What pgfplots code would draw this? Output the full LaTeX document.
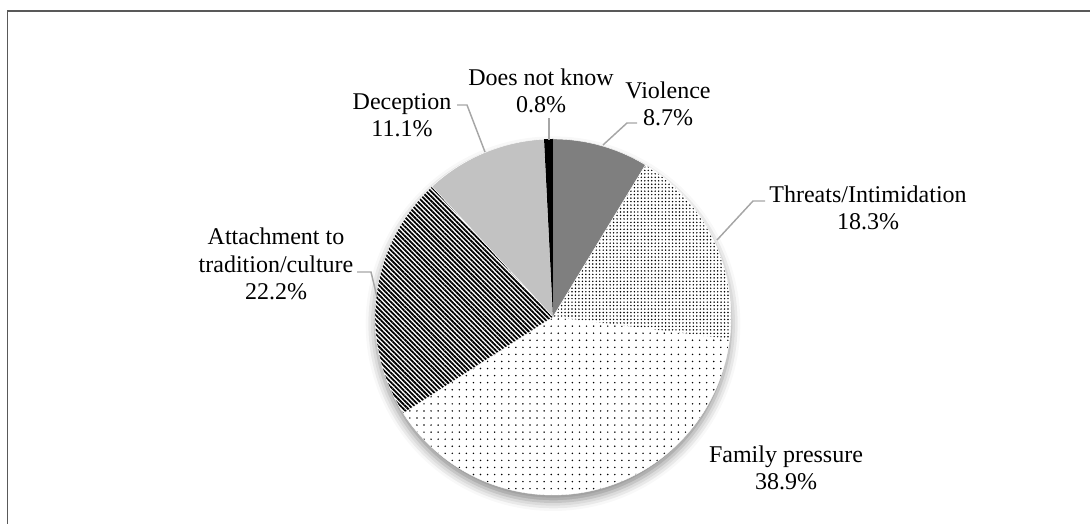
\documentclass[border=0pt]{standalone}
\usepackage{pgfplots}
\pgfplotsset{compat=1.18}
\usepackage{pgfplotstable}
\usepackage{fontspec}
\setmainfont{Liberation Serif}
\usetikzlibrary{patterns.meta,shadows.blur}

\definecolor{frame}{HTML}{595959}
\definecolor{leader}{HTML}{A6A6A6}
\definecolor{viol}{HTML}{7F7F7F}
\definecolor{decep}{HTML}{C2C2C2}

\pgfplotstableread{
cat pct
Violence 8.7
Threats 18.3
Family 38.9
Attachment 22.2
Deception 11.1
DNK 0.8
}\piedata

\pgfplotstablegetelem{0}{pct}\of\piedata \let\pA\pgfplotsretval
\pgfplotstablegetelem{1}{pct}\of\piedata \let\pB\pgfplotsretval
\pgfplotstablegetelem{2}{pct}\of\piedata \let\pC\pgfplotsretval
\pgfplotstablegetelem{3}{pct}\of\piedata \let\pD\pgfplotsretval
\pgfplotstablegetelem{4}{pct}\of\piedata \let\pE\pgfplotsretval
\pgfplotstablegetelem{5}{pct}\of\piedata \let\pF\pgfplotsretval
\pgfmathsetmacro\aA{90}
\pgfmathsetmacro\aB{\aA-3.6*\pA}
\pgfmathsetmacro\aC{\aB-3.6*\pB}
\pgfmathsetmacro\aD{\aC-3.6*\pC}
\pgfmathsetmacro\aE{\aD-3.6*\pD}
\pgfmathsetmacro\aF{\aE-3.6*\pE}
\pgfmathsetmacro\aG{\aF-3.6*\pF}

\def\cx{553}
\def\cy{207}
\def\R{178}

\begin{document}
\begin{tikzpicture}
\begin{axis}[
  width=817.5pt, height=393pt, scale only axis,
  xmin=0, xmax=1090, ymin=0, ymax=524,
  hide axis, clip=false,
]
% shadow base
\addplot[fill=white, draw=none, domain=0:360, samples=180, variable=\t,
  blur shadow={shadow xshift=0pt, shadow yshift=-5pt, shadow blur radius=7pt, shadow opacity=45}]
  ({\cx+\R*cos(\t)},{\cy+\R*sin(\t)}) -- cycle;
% slices
\addplot[fill=viol, draw=white, line width=0.3pt, domain=\aB:\aA, samples=60, variable=\t]
  ({\cx+\R*cos(\t)},{\cy+\R*sin(\t)}) -- (axis cs:\cx,\cy) -- cycle;
\addplot[draw=white, line width=0.3pt, pattern={Dots[distance=2.6pt, radius=0.62pt]}, domain=\aC:\aB, samples=80, variable=\t]
  ({\cx+\R*cos(\t)},{\cy+\R*sin(\t)}) -- (axis cs:\cx,\cy) -- cycle;
\addplot[draw=white, line width=0.3pt, pattern={Dots[distance=5.3pt, radius=0.62pt]}, domain=\aD:\aC, samples=120, variable=\t]
  ({\cx+\R*cos(\t)},{\cy+\R*sin(\t)}) -- (axis cs:\cx,\cy) -- cycle;
\addplot[draw=white, line width=0.3pt, pattern={Lines[angle=-45, distance=2.5pt, line width=1.35pt]}, domain=\aE:\aD, samples=80, variable=\t]
  ({\cx+\R*cos(\t)},{\cy+\R*sin(\t)}) -- (axis cs:\cx,\cy) -- cycle;
\addplot[fill=decep, draw=white, line width=0.3pt, domain=\aF:\aE, samples=60, variable=\t]
  ({\cx+\R*cos(\t)},{\cy+\R*sin(\t)}) -- (axis cs:\cx,\cy) -- cycle;
\addplot[fill=black, draw=none, domain=\aG:\aF, samples=20, variable=\t]
  ({\cx+\R*cos(\t)},{\cy+\R*sin(\t)}) -- (axis cs:\cx,\cy) -- cycle;

% frame (top and left edges)
\draw[frame, line width=1.1pt] (axis cs:7.5,0) -- (axis cs:7.5,513) -- (axis cs:1090,513);

% leader lines
\draw[leader, line width=1.1pt] (axis cs:549,406) -- (axis cs:549,384);
\draw[leader, line width=1.1pt] (axis cs:637,401) -- (axis cs:627,401) -- (axis cs:603,379);
\draw[leader, line width=1.1pt] (axis cs:765,323) -- (axis cs:753,323) -- (axis cs:717,284);
\draw[leader, line width=1.1pt] (axis cs:457,419) -- (axis cs:467,419) -- (axis cs:485,372);
\draw[leader, line width=1.1pt] (axis cs:357,252) -- (axis cs:371,252) -- (axis cs:377,227);

% labels
\tikzset{lab/.style={align=center, font=\fontsize{18}{20.5}\selectfont, inner sep=0pt}}
\node[lab] at (axis cs:541,433) {Does not know\\0.8\%};
\node[lab] at (axis cs:668,420) {Violence\\8.7\%};
\node[lab] at (axis cs:868,316) {Threats/Intimidation\\18.3\%};
\node[lab] at (axis cs:786,56) {Family pressure\\38.9\%};
\node[lab] at (axis cs:402,409) {Deception\\11.1\%};
\node[lab] at (axis cs:276,260) {Attachment to\\tradition/culture\\22.2\%};
\end{axis}
\pgfresetboundingbox
\useasboundingbox (current axis.south west) rectangle (current axis.north east);
\end{tikzpicture}
\end{document}
